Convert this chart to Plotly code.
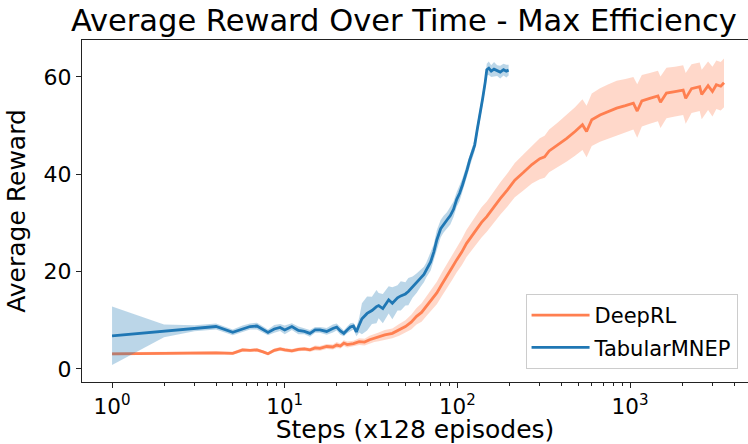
import plotly.graph_objects as go

# ── Data ─────────────────────────────────────────────────────────────────────
tab_steps = [1, 2, 3, 4, 5, 5.7, 6.3, 6.9, 7.5, 8, 8.7, 9.4, 10, 11, 12, 13, 14, 15,
             16, 17.5, 19, 20, 21, 22, 23, 24, 25, 26, 27, 28, 30, 32, 34, 35, 37,
             40, 42, 45, 47, 50, 52, 55, 58, 61, 64, 66, 70, 73, 76, 80, 83, 87, 91,
             95, 99, 103, 107, 110, 114, 118, 122, 126, 130, 135, 140, 145, 148, 152,
             157, 163, 170, 177, 185, 192, 198]
tab_mean = [6.8, 7.8, 8.35, 8.7, 7.5, 8.2, 8.7, 8.8, 8.1, 7.5, 8.2, 8.5, 8.0, 8.7, 7.9,
            7.7, 7.3, 8.0, 8.0, 7.7, 8.3, 8.6, 7.8, 7.3, 8.0, 8.6, 8.8, 7.6, 9.0, 10.3,
            11.4, 12.0, 12.8, 13.0, 12.4, 14.2, 13.5, 14.6, 15.0, 15.4, 15.9, 16.8,
            17.6, 18.6, 19.4, 20.3, 22.0, 24.0, 26.5, 28.8, 29.7, 30.6, 31.5, 32.8,
            34.8, 36.1, 37.8, 39.0, 41.0, 43.0, 44.6, 46.0, 49.0, 52.0, 55.5, 59.0,
            61.5, 61.8, 61.2, 61.6, 61.3, 61.0, 61.5, 61.2, 61.4]
tab_std = [6.0, 1.3, 0.6, 0.6, 0.6, 0.7, 0.6, 0.7, 0.6, 0.6, 0.8, 0.7, 0.9, 0.7, 0.8,
           0.6, 0.7, 0.6, 0.6, 0.7, 0.8, 0.7, 0.8, 0.6, 0.7, 0.8, 0.7, 0.9, 1.5, 3.2,
           3.5, 2.8, 3.4, 2.6, 3.0, 2.8, 3.3, 2.6, 3.0, 2.4, 2.8, 2.2, 2.0, 1.8, 1.6,
           1.5, 1.8, 1.6, 2.0, 1.8, 1.7, 1.6, 1.8, 1.6, 1.5, 1.6, 1.4, 1.5, 1.3, 1.4,
           1.3, 1.2, 1.3, 1.2, 1.2, 1.3, 1.2, 1.4, 1.2, 1.5, 1.1, 1.3, 1.2, 1.3, 1.1]

deep_steps = [1, 2, 3, 4, 5, 5.7, 6.3, 6.9, 7.5, 8, 8.7, 9.4, 10, 11, 12, 13, 14, 15,
              16, 17.5, 19, 20, 21, 22, 23, 25, 27, 29, 31, 33, 35, 38, 42, 46, 50,
              54, 58, 62, 66, 70, 76, 81, 87, 93, 99, 106, 113, 121, 129, 138, 148,
              160, 177, 195, 215, 240, 270, 300, 320, 340, 380, 430, 480, 530, 560,
              600, 670, 750, 836, 940, 1045, 1100, 1170, 1300, 1450, 1500, 1625, 1820,
              2030, 2100, 2270, 2530, 2600, 2830, 3000, 3160, 3350, 3500]
deep_mean = [3.1, 3.2, 3.3, 3.3, 3.2, 3.9, 3.8, 3.9, 3.5, 3.1, 3.8, 4.1, 3.9, 3.7, 4.0,
             4.1, 3.9, 4.3, 4.2, 4.6, 4.5, 4.9, 4.7, 5.3, 5.0, 5.2, 5.6, 5.5, 6.0, 6.3,
             6.6, 7.0, 7.3, 8.0, 8.7, 9.6, 10.8, 11.6, 12.8, 13.9, 15.6, 17.3, 19.0,
             20.8, 22.4, 24.0, 25.8, 27.3, 28.6, 30.1, 31.3, 33.0, 35.0, 36.8, 38.8,
             40.3, 42.0, 43.2, 43.6, 44.8, 46.0, 47.4, 48.8, 50.2, 48.8, 51.2, 52.2,
             52.9, 53.6, 54.1, 54.6, 53.0, 55.1, 55.6, 56.1, 54.8, 56.7, 57.0, 57.3,
             55.6, 57.6, 58.0, 56.4, 58.2, 57.0, 58.4, 58.1, 58.8]
deep_std = [0.3, 0.3, 0.3, 0.3, 0.3, 0.4, 0.3, 0.4, 0.3, 0.3, 0.4, 0.4, 0.4, 0.4, 0.4,
            0.4, 0.4, 0.5, 0.5, 0.5, 0.5, 0.6, 0.5, 0.6, 0.6, 0.6, 0.7, 0.7, 0.8, 0.8,
            0.9, 1.0, 1.0, 1.2, 1.3, 1.5, 1.7, 1.9, 2.0, 2.1, 2.3, 2.4, 2.5, 2.6, 2.6,
            2.7, 2.8, 2.9, 3.0, 3.1, 3.1, 3.2, 3.3, 3.4, 3.5, 3.7, 3.9, 4.2, 4.3, 4.4,
            4.6, 4.8, 5.0, 5.2, 5.3, 5.4, 5.5, 5.6, 5.6, 5.5, 5.4, 5.5, 5.3, 5.2, 5.2,
            5.3, 5.2, 5.1, 5.1, 5.2, 5.0, 5.0, 5.1, 5.0, 5.1, 5.0, 5.0, 5.0]

x_tickvals = [1, 10, 100, 1000]
x_ticktext = ["10<sup>0</sup>", "10<sup>1</sup>", "10<sup>2</sup>", "10<sup>3</sup>"]
x_minor = [m * d for d in (1, 10, 100, 1000) for m in range(2, 10)]
y_tickvals = [0, 20, 40, 60]

FONT = "DejaVu Sans"
SERIES = [
    ("DeepRL", deep_steps, deep_mean, deep_std, "#FF7F50", "rgba(255,127,80,0.3)"),
    ("TabularMNEP", tab_steps, tab_mean, tab_std, "#1f77b4", "rgba(31,119,180,0.3)"),
]

fig = go.Figure()
for name, xs, mean, std, line_col, band_col in SERIES:
    lower = [m - s for m, s in zip(mean, std)]
    upper = [m + s for m, s in zip(mean, std)]
    fig.add_trace(go.Scatter(x=xs, y=lower, mode="lines", line=dict(width=0),
                             legendgroup=name, showlegend=False, hoverinfo="skip"))
    fig.add_trace(go.Scatter(x=xs, y=upper, mode="lines", line=dict(width=0),
                             fill="tonexty", fillcolor=band_col, legendgroup=name,
                             showlegend=False, hoverinfo="skip"))
    fig.add_trace(go.Scatter(x=xs, y=mean, mode="lines", name=name, legendgroup=name,
                             line=dict(color=line_col, width=2.8)))

fig.update_layout(
    width=748,
    height=444,
    margin=dict(l=82, r=0, t=40, b=62),
    plot_bgcolor="white",
    paper_bgcolor="white",
    font=dict(family=FONT, size=21, color="#000"),
    title=dict(text="Average Reward Over Time - Max Efficiency", x=0.54, xanchor="center",
               y=0.955, yanchor="middle", font=dict(size=30.5, family=FONT)),
    legend=dict(x=0.666, y=0.038, xanchor="left", yanchor="bottom",
                bgcolor="rgba(255,255,255,0.8)", bordercolor="#cccccc", borderwidth=1,
                font=dict(size=21, family=FONT), traceorder="grouped",
                tracegroupgap=2, itemwidth=58),
    xaxis=dict(
        type="log", range=[-0.174, 3.683],
        showgrid=False, zeroline=False,
        showline=True, linecolor="#222", linewidth=1, mirror=True,
        ticks="outside", ticklen=5, tickcolor="#222", tickfont=dict(size=21.5),
        tickvals=x_tickvals, ticktext=x_ticktext,
        minor=dict(tickvals=x_minor, ticks="outside", ticklen=3, tickcolor="#222"),
        title=dict(text="Steps (x128 episodes)", standoff=7),
    ),
    yaxis=dict(
        range=[-2.7, 67.6],
        showgrid=False, zeroline=False,
        showline=True, linecolor="#222", linewidth=1,
        ticks="outside", ticklen=5, tickcolor="#222", tickfont=dict(size=22),
        tickvals=y_tickvals,
        title=dict(text="Average Reward", standoff=10),
    ),
)

fig.write_html("out.html", config={"displayModeBar": False},
               post_script="document.body.style.margin='0';")
